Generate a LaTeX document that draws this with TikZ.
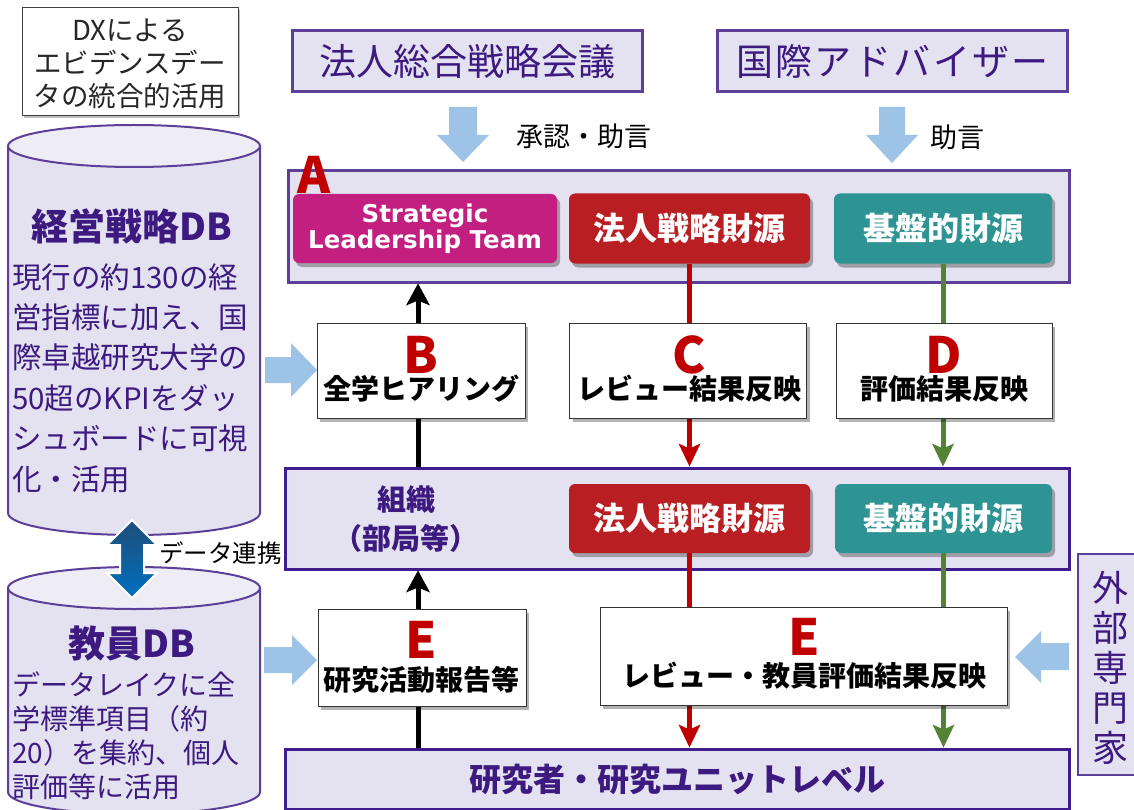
\documentclass[tikz,border=0pt]{standalone}
\usepackage{fontspec}
\setmainfont{Noto Sans CJK JP}
\newfontfamily\spjp{Noto Sans CJK JP}[LetterSpace=6.5]
\newfontfamily\latb{DejaVu Sans}
\usetikzlibrary{shadows,arrows.meta}
\definecolor{pur}{HTML}{5B3F99}
\definecolor{dpur}{HTML}{3F1D8C}
\definecolor{lav}{HTML}{E4E2F0}
\definecolor{lavl}{HTML}{EEEDF6}
\definecolor{tpur}{HTML}{3C1A80}
\definecolor{mag}{HTML}{C21F80}
\definecolor{rd}{HTML}{B81E22}
\definecolor{tl}{HTML}{2E9393}
\definecolor{lred}{HTML}{C00000}
\definecolor{grn}{HTML}{548235}
\definecolor{lblue}{HTML}{9DC3E6}
\definecolor{dblue}{HTML}{1F4E79}
\definecolor{mblue}{HTML}{0070C0}
\tikzset{
  shd/.style={drop shadow={shadow xshift=3pt, shadow yshift=-4pt, opacity=0.3, fill=black}},
  panel/.style={draw=dpur, line width=3pt, fill=lav, inner sep=0pt},
  topbox/.style={draw=pur, line width=3pt, fill=lav, text=tpur, inner sep=0pt},
  colbox/.style={rounded corners=6pt, text=white, inner sep=0pt, shd,
     font=\bfseries\fontsize{32}{38}\selectfont},
  wbox/.style={draw=black!80, line width=1pt, fill=white, inner sep=0pt, shd},
  letter/.style={text=lred, font=\bfseries\fontsize{50}{50}\selectfont, inner sep=0pt},
  wtext/.style={font=\bfseries\fontsize{28}{30}\selectfont, inner sep=0pt},
  stem/.style={line width=5pt},
  blockarrow/.style={fill=lblue},
  cyl/.style={fill=lav, draw=pur, line width=2pt},
  cyltop/.style={fill=lavl, draw=pur, line width=2pt},
}
% arrowheads: tip at #1
\newcommand\upheadx[2][black]{\fill[#1] (#2) -- ++(-12,22) -- ++(12,-5) -- ++(12,5) -- cycle;}
\newcommand\dnheadx[2][black]{\fill[#1] (#2) -- ++(-11,-23) -- ++(11,5) -- ++(11,-5) -- cycle;}
\begin{document}
\begin{tikzpicture}[x=1pt,y=-1pt]
\useasboundingbox (0,0) rectangle (1134,810);
\clip (0,0) rectangle (1134,810);
\fill[white] (0,0) rectangle (1134,810);

% ---------- left databases ----------
\node[draw=black!75, line width=1pt, fill=white, minimum width=216pt, minimum height=108pt,
  inner sep=0pt, drop shadow={shadow xshift=2pt, shadow yshift=-2pt, opacity=0.25, fill=black}] (dx) at (130,62) {};
\node[align=center, font=\fontsize{27.5}{33}\selectfont, text=black!85, inner sep=0pt] (dxt) at (130,64)
  {DXによる\\エビデンスデー\\タの統合的活用};

\path[cyl] (8,146) -- (8,513) arc[start angle=180,end angle=0,x radius=126,y radius=22] -- (260,146);
\path[cyltop] (134,146) ellipse [x radius=126, y radius=21];
\node[text=tpur, font=\bfseries\fontsize{37}{40}\selectfont, inner sep=0pt] (db1) at (132,226) {経営戦略DB};
\node[anchor=north west, align=left, text=tpur, font=\fontsize{29.5}{40.4}\selectfont, inner sep=0pt] (db1t) at (12,263)
  {現行の約130の経\\営指標に加え、国\\際卓越研究大学の\\50超のKPIをダッ\\シュボードに可視\\化・活用};

\path[cyl] (8,588) -- (8,792) arc[start angle=180,end angle=0,x radius=126,y radius=22] -- (260,588);
\path[cyltop] (134,588) ellipse [x radius=126, y radius=21];
\node[text=tpur, font=\bfseries\fontsize{37}{40}\selectfont, inner sep=0pt] (db2) at (132,644) {教員DB};
\node[anchor=north west, align=left, text=tpur, font=\fontsize{28}{34}\selectfont, inner sep=0pt] (db2t) at (12,671)
  {データレイクに全\\学標準項目（約\\20）を集約、個人\\評価等に活用};

\path[shade, top color=dblue, bottom color=mblue, draw=white, line width=2pt]
  (132,520) -- (157,545) -- (144,545) -- (144,573) -- (157,573) -- (132,598)
  -- (107,573) -- (120,573) -- (120,545) -- (107,545) -- cycle;
\node[anchor=west, font=\fontsize{24.5}{28}\selectfont, inner sep=0pt] (link) at (159,553) {データ連携};

% ---------- top boxes ----------
\node[topbox, minimum width=350pt, minimum height=61pt, font=\fontsize{37}{40}\selectfont] (hq) at (467,61.5) {法人総合戦略会議};
\node[topbox, minimum width=350pt, minimum height=61pt, font=\spjp\fontsize{37}{40}\selectfont] (adv) at (892.5,61.5) {国際アドバイザー};
\path[blockarrow] (449,107) -- (477,107) -- (477,135) -- (489,135) -- (463,162) -- (437,135) -- (449,135) -- cycle;
\path[blockarrow] (879,107) -- (905,107) -- (905,135) -- (918,135) -- (892,163) -- (866,135) -- (879,135) -- cycle;
\node[anchor=west, font=\fontsize{27}{30}\selectfont, inner sep=0pt] (apr) at (516,136) {承認・助言};
\node[anchor=west, font=\fontsize{27}{30}\selectfont, inner sep=0pt] (adv2) at (930,137) {助言};

% ---------- panel A ----------
\node[panel, draw=pur, minimum width=781pt, minimum height=111pt] (pa) at (678.5,226.5) {};
\node[text=lred, font=\bfseries\fontsize{50}{50}\selectfont, inner sep=0pt] (la) at (314,175) {A};
\node[colbox, fill=mag, minimum width=264pt, minimum height=69pt, align=center,
  font=\latb\bfseries\fontsize{24.5}{26}\selectfont] (slt) at (425,228.5) {Strategic\\Leadership Team};
\node[colbox, fill=rd, minimum width=241pt, minimum height=70pt] (ra) at (689.5,228.5) {法人戦略財源};
\node[colbox, fill=tl, minimum width=218pt, minimum height=70pt] (ta) at (943,228.5) {基盤的財源};

% ---------- middle panel ----------
\node[panel, minimum width=784pt, minimum height=101pt] (pm) at (677,518.5) {};
\node[align=center, text=tpur, font=\bfseries\fontsize{29}{39}\selectfont, inner sep=0pt] (org) at (406,519) {組織\\（部局等）};
\node[colbox, fill=rd, minimum width=241pt, minimum height=69pt] (rm) at (689.5,518.5) {法人戦略財源};
\node[colbox, fill=tl, minimum width=217pt, minimum height=69pt] (tm) at (943.5,518.5) {基盤的財源};

% ---------- bottom panel ----------
\node[panel, minimum width=784pt, minimum height=60pt] (pb) at (677,779) {};
\node[text=tpur, font=\bfseries\fontsize{32}{36}\selectfont, inner sep=0pt] (res) at (677,779) {研究者・研究ユニットレベル};

% ---------- external experts ----------
\node[draw=pur, line width=2.5pt, fill=lav, minimum width=70pt, minimum height=221pt, inner sep=0pt] (ext) at (1113,664.5) {};
\node[align=center, text=tpur, font=\fontsize{36}{40}\selectfont, inner sep=0pt] (extt) at (1110,668) {外\\部\\専\\門\\家};

% ---------- connectors ----------
\coordinate (bx) at (418,0);
\draw[stem] (bx |- pm.north) -- ([yshift=-12pt]bx |- pa.south);
\upheadx{bx |- pa.south}
\draw[stem, lred] (ra.south) -- ([yshift=12pt]ra.south |- pm.north);
\dnheadx[lred]{ra.south |- pm.north}
\draw[stem, grn] (ta.south) -- ([yshift=12pt]ta.south |- pm.north);
\dnheadx[grn]{ta.south |- pm.north}

\draw[stem] (bx |- pb.north) -- ([yshift=-12pt]bx |- pm.south);
\upheadx{bx |- pm.south}
\draw[stem, lred] (rm.south) -- ([yshift=12pt]rm.south |- pb.north);
\dnheadx[lred]{rm.south |- pb.north}
\draw[stem, grn] (tm.south) -- ([yshift=12pt]tm.south |- pb.north);
\dnheadx[grn]{tm.south |- pb.north}

% ---------- B C D ----------
\node[wbox, minimum width=208pt, minimum height=95pt] (bb) at (421,370.5) {};
\node[letter] (lb) at (421,355) {B};
\node[wtext] (tb) at (421,389) {全学ヒアリング};
\node[wbox, minimum width=237pt, minimum height=95pt] (cb) at (688,370.5) {};
\node[letter] (lc) at (689,355) {C};
\node[wtext] (tc) at (689,389) {レビュー結果反映};
\node[wbox, minimum width=216pt, minimum height=95pt] (db) at (944,370.5) {};
\node[letter] (ld) at (944,355) {D};
\node[wtext] (td) at (944,389) {評価結果反映};

% ---------- E boxes ----------
\node[wbox, minimum width=208pt, minimum height=97pt] (eb1) at (422,657.5) {};
\node[letter] (le1) at (421,640) {E};
\node[wtext] (te1) at (421,680) {研究活動報告等};
\node[wbox, minimum width=407pt, minimum height=98pt] (eb2) at (803.5,656) {};
\node[letter] (le2) at (804,637) {E};
\node[wtext] (te2) at (804,676) {レビュー・教員評価結果反映};

% ---------- light blue input arrows ----------
\path[blockarrow] (265,357) -- (291,357) -- (291,343) -- (317,370) -- (291,397) -- (291,383) -- (265,383) -- cycle;
\path[blockarrow] (264,647) -- (292,647) -- (292,635) -- (317,660) -- (292,685) -- (292,673) -- (264,673) -- cycle;
\path[blockarrow] (1069,643) -- (1041,643) -- (1041,631) -- (1015,657) -- (1041,683) -- (1041,670) -- (1069,670) -- cycle;
\end{tikzpicture}
\end{document}
